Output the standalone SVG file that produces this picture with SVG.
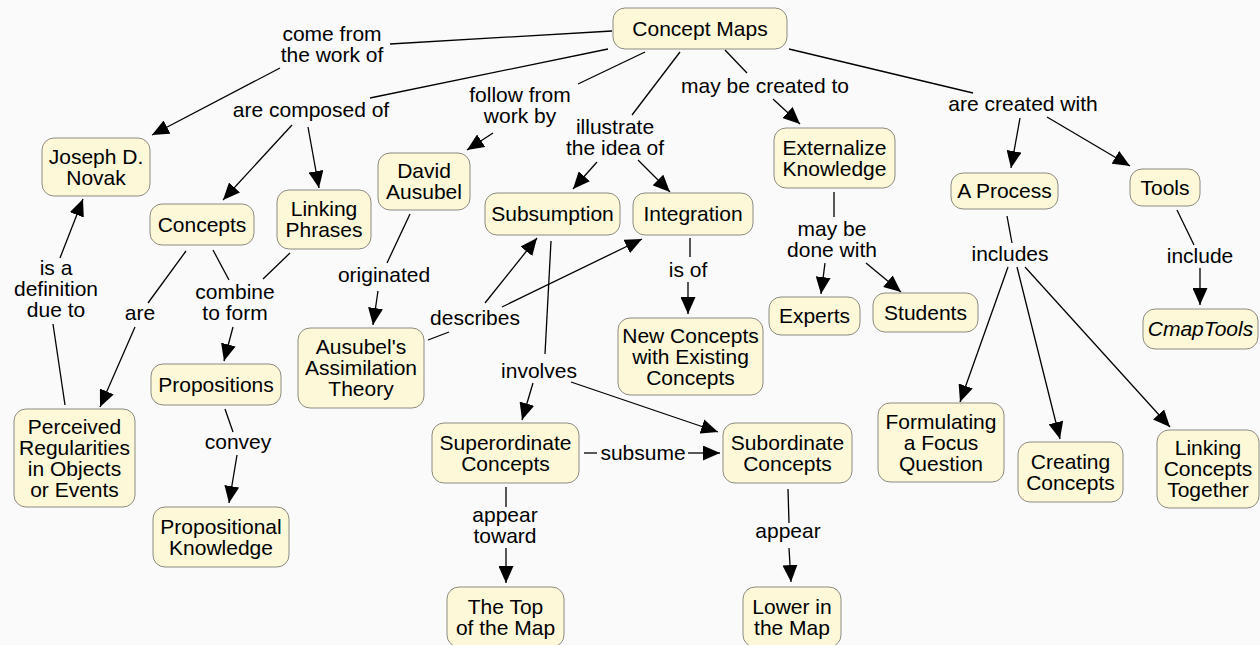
<svg xmlns="http://www.w3.org/2000/svg" width="1260" height="645" viewBox="0 0 1260 645">
<defs>
<marker id="ah" markerUnits="userSpaceOnUse" markerWidth="17" markerHeight="15" refX="17" refY="7.5" orient="auto">
<path d="M0,0 L17,7.5 L0,15 z" fill="#000"/>
</marker>
<style>
.n rect{fill:#fcf8d8;stroke:#8c8a80;stroke-width:1}
text{font-family:"Liberation Sans",Arial,sans-serif;font-size:21px;fill:#000;text-anchor:middle}
.c line{stroke:#000;stroke-width:1.3}
.c .a{marker-end:url(#ah)}
</style>
</defs>
<rect x="0" y="0" width="1260" height="645" fill="#fafafa"/>

<g id="connectors" class="c">
<!-- come from the work of -->
<line x1="612" y1="31" x2="390" y2="44"/>
<line class="a" x1="280" y1="68" x2="152" y2="135"/>
<!-- are composed of -->
<line x1="608" y1="49" x2="370" y2="98"/>
<line class="a" x1="292" y1="125" x2="223" y2="200"/>
<line class="a" x1="308" y1="127" x2="319" y2="188"/>
<!-- follow from work by -->
<line x1="645" y1="52" x2="578" y2="84"/>
<line class="a" x1="493" y1="133" x2="467" y2="150"/>
<!-- illustrate the idea of -->
<line x1="680" y1="52" x2="632" y2="115"/>
<line class="a" x1="597" y1="162" x2="573" y2="189"/>
<line class="a" x1="638" y1="160" x2="670" y2="192"/>
<!-- may be created to -->
<line x1="725" y1="50" x2="747" y2="73"/>
<line class="a" x1="773" y1="99" x2="800" y2="124"/>
<!-- are created with -->
<line x1="789" y1="49" x2="973" y2="93"/>
<line class="a" x1="1020" y1="118" x2="1011" y2="168"/>
<line class="a" x1="1047" y1="117" x2="1130" y2="166"/>
<!-- is a definition due to -->
<line x1="65" y1="405" x2="53" y2="324"/>
<line class="a" x1="60" y1="258" x2="83" y2="199"/>
<!-- are -->
<line x1="186" y1="251" x2="148" y2="303"/>
<line class="a" x1="135" y1="327" x2="100" y2="407"/>
<!-- combine to form -->
<line x1="213" y1="250" x2="229" y2="280"/>
<line x1="290" y1="253" x2="263" y2="279"/>
<line class="a" x1="233" y1="327" x2="224" y2="361"/>
<!-- convey -->
<line x1="225" y1="409" x2="233" y2="432"/>
<line class="a" x1="237" y1="455" x2="229" y2="503"/>
<!-- originated -->
<line x1="410" y1="214" x2="387" y2="263"/>
<line class="a" x1="378" y1="291" x2="373" y2="325"/>
<!-- describes -->
<line x1="428" y1="340" x2="449" y2="332"/>
<line class="a" x1="485" y1="303" x2="537" y2="238"/>
<line class="a" x1="502" y1="307" x2="642" y2="239"/>
<!-- involves -->
<line x1="551" y1="241" x2="545" y2="354"/>
<line class="a" x1="533" y1="383" x2="522" y2="420"/>
<line class="a" x1="571" y1="382" x2="718" y2="432"/>
<!-- is of -->
<line x1="690" y1="238" x2="690" y2="257"/>
<line class="a" x1="688" y1="282" x2="688" y2="314"/>
<!-- subsume -->
<line x1="584" y1="453" x2="597" y2="453"/>
<line class="a" x1="688" y1="453" x2="720" y2="453"/>
<!-- appear toward -->
<line x1="506" y1="487" x2="506" y2="507"/>
<line class="a" x1="506" y1="548" x2="506" y2="583"/>
<!-- appear -->
<line x1="788" y1="489" x2="789" y2="523"/>
<line class="a" x1="789" y1="548" x2="791" y2="582"/>
<!-- may be done with -->
<line x1="834" y1="192" x2="834" y2="217"/>
<line class="a" x1="825" y1="263" x2="821" y2="294"/>
<line class="a" x1="866" y1="263" x2="901" y2="292"/>
<!-- includes -->
<line x1="1007" y1="216" x2="1012" y2="243"/>
<line class="a" x1="1008" y1="267" x2="960" y2="402"/>
<line class="a" x1="1017" y1="267" x2="1060" y2="439"/>
<line class="a" x1="1025" y1="267" x2="1170" y2="427"/>
<!-- include -->
<line x1="1177" y1="210" x2="1194" y2="245"/>
<line class="a" x1="1200" y1="268" x2="1200" y2="305"/>
</g>

<g id="labels">
<text x="332" y="41">come from</text><text x="332" y="62">the work of</text>
<text x="311" y="117">are composed of</text>
<text x="520" y="102">follow from</text><text x="520" y="123">work by</text>
<text x="615" y="134">illustrate</text><text x="615" y="155">the idea of</text>
<text x="765" y="93">may be created to</text>
<text x="1023" y="111">are created with</text>
<text x="56" y="275">is a</text><text x="56" y="296">definition</text><text x="56" y="317">due to</text>
<text x="140" y="320">are</text>
<text x="235" y="299">combine</text><text x="235" y="320">to form</text>
<text x="384" y="282">originated</text>
<text x="475" y="325">describes</text>
<text x="238" y="449">convey</text>
<text x="539" y="378">involves</text>
<text x="688" y="277">is of</text>
<text x="643" y="460">subsume</text>
<text x="505" y="522">appear</text><text x="505" y="543">toward</text>
<text x="788" y="538">appear</text>
<text x="832" y="236">may be</text><text x="832" y="257">done with</text>
<text x="1010" y="261">includes</text>
<text x="1200" y="263">include</text>
</g>

<g id="concept-maps" class="n"><rect x="613" y="8" width="174" height="41" rx="12"/><text x="700" y="35.5">Concept Maps</text></g>
<g id="joseph-novak" class="n"><rect x="42" y="138" width="108" height="58" rx="12"/><text x="96" y="164">Joseph D.</text><text x="96" y="185">Novak</text></g>
<g id="concepts" class="n"><rect x="150" y="204" width="104" height="41" rx="12"/><text x="202" y="231.5">Concepts</text></g>
<g id="linking-phrases" class="n"><rect x="277" y="190" width="94" height="59" rx="12"/><text x="324" y="216">Linking</text><text x="324" y="237">Phrases</text></g>
<g id="david-ausubel" class="n"><rect x="378" y="153" width="92" height="57" rx="12"/><text x="424" y="178">David</text><text x="424" y="199">Ausubel</text></g>
<g id="assimilation-theory" class="n"><rect x="298" y="328" width="126" height="80" rx="12"/><text x="361" y="354">Ausubel's</text><text x="361" y="375">Assimilation</text><text x="361" y="396">Theory</text></g>
<g id="propositions" class="n"><rect x="151" y="364" width="130" height="41" rx="12"/><text x="216" y="391.5">Propositions</text></g>
<g id="perceived-regularities" class="n"><rect x="14" y="409" width="121" height="98" rx="12"/><text x="74.5" y="433.5">Perceived</text><text x="74.5" y="454.5">Regularities</text><text x="74.5" y="475.5">in Objects</text><text x="74.5" y="496.5">or Events</text></g>
<g id="propositional-knowledge" class="n"><rect x="153" y="507" width="136" height="60" rx="12"/><text x="221" y="533.5">Propositional</text><text x="221" y="554.5">Knowledge</text></g>
<g id="subsumption" class="n"><rect x="485" y="193" width="135" height="42" rx="12"/><text x="552.5" y="221">Subsumption</text></g>
<g id="integration" class="n"><rect x="633" y="193" width="120" height="42" rx="12"/><text x="693" y="221">Integration</text></g>
<g id="new-concepts" class="n"><rect x="618" y="318" width="145" height="77" rx="12"/><text x="690.5" y="342.5">New Concepts</text><text x="690.5" y="363.5">with Existing</text><text x="690.5" y="384.5">Concepts</text></g>
<g id="externalize-knowledge" class="n"><rect x="774" y="128" width="121" height="60" rx="12"/><text x="834.5" y="154.5">Externalize</text><text x="834.5" y="175.5">Knowledge</text></g>
<g id="experts" class="n"><rect x="769" y="297" width="91" height="38" rx="12"/><text x="814.5" y="323">Experts</text></g>
<g id="students" class="n"><rect x="873" y="293" width="105" height="39" rx="12"/><text x="925.5" y="319.5">Students</text></g>
<g id="a-process" class="n"><rect x="951" y="173" width="107" height="36" rx="12"/><text x="1004.5" y="198">A Process</text></g>
<g id="tools" class="n"><rect x="1130" y="169" width="70" height="37" rx="12"/><text x="1165" y="194.5">Tools</text></g>
<g id="cmaptools" class="n"><rect x="1143" y="309" width="115" height="40" rx="12"/><text x="1200.5" y="336" font-style="italic">CmapTools</text></g>
<g id="focus-question" class="n"><rect x="878" y="403" width="126" height="79" rx="12"/><text x="941" y="428.5">Formulating</text><text x="941" y="449.5">a Focus</text><text x="941" y="470.5">Question</text></g>
<g id="creating-concepts" class="n"><rect x="1018" y="442" width="105" height="60" rx="12"/><text x="1070.5" y="468.5">Creating</text><text x="1070.5" y="489.5">Concepts</text></g>
<g id="linking-concepts" class="n"><rect x="1157" y="430" width="102" height="78" rx="12"/><text x="1208" y="455">Linking</text><text x="1208" y="476">Concepts</text><text x="1208" y="497">Together</text></g>
<g id="superordinate" class="n"><rect x="432" y="423" width="147" height="60" rx="12"/><text x="505.5" y="449.5">Superordinate</text><text x="505.5" y="470.5">Concepts</text></g>
<g id="subordinate" class="n"><rect x="723" y="423" width="129" height="60" rx="12"/><text x="787.5" y="449.5">Subordinate</text><text x="787.5" y="470.5">Concepts</text></g>
<g id="top-of-map" class="n"><rect x="447" y="587" width="117" height="60" rx="12"/><text x="505.5" y="614">The Top</text><text x="505.5" y="635">of the Map</text></g>
<g id="lower-in-map" class="n"><rect x="743" y="587" width="98" height="60" rx="12"/><text x="792" y="614">Lower in</text><text x="792" y="635">the Map</text></g>
</svg>
